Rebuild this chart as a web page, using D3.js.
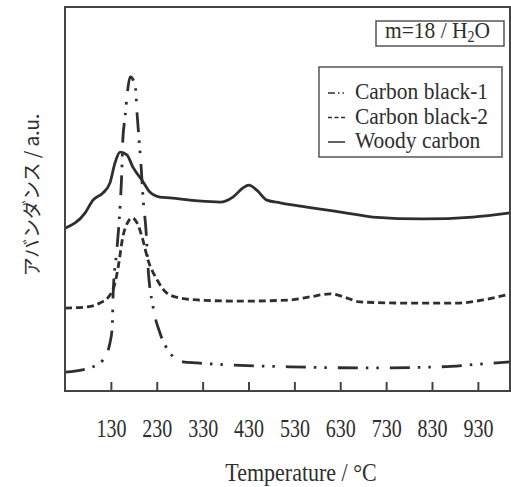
<!DOCTYPE html>
<html>
<head>
<meta charset="utf-8">
<script src="https://cdn.jsdelivr.net/npm/d3@7"></script>
<style>
  body { margin: 0; background: #fff; }
  svg { display: block; }
</style>
</head>
<body>
<svg id="chart" width="511" height="487"></svg>
<script>
// temperature (°C), intensity in arbitrary units (0-100)
const woodyT = [30, 74, 91, 113, 128, 139, 150, 165, 178, 198, 215, 237, 259, 320, 368, 396, 418, 431, 448, 470, 499, 557, 614, 673, 701, 810, 919, 1000];
const woodyV = [42.4, 46.4, 49.7, 51.6, 54.2, 59.4, 62.2, 61.5, 58.3, 54.9, 51.8, 50.5, 50.3, 49.5, 49.2, 50.5, 52.9, 53.6, 52.3, 49.7, 49.0, 47.9, 46.9, 45.8, 45.3, 44.8, 45.3, 46.4];

const cb2T = [30, 78, 106, 128, 139, 146, 156, 167, 176, 187, 198, 211, 231, 252, 281, 320, 411, 520, 564, 608, 645, 673, 775, 884, 941, 1000];
const cb2V = [21.6, 21.9, 22.9, 25.0, 28.1, 32.3, 40.1, 44.0, 45.1, 43.8, 40.1, 34.1, 28.9, 25.5, 24.2, 23.7, 23.4, 23.7, 24.5, 25.3, 24.2, 23.2, 22.9, 22.9, 23.7, 25.3];

const cb1T = [30, 91, 113, 128, 133, 135, 143, 150, 154, 156, 161, 165, 172, 183, 187, 191, 196, 200, 207, 211, 222, 237, 259, 287, 318, 520, 701, 847, 935, 1000];
const cb1V = [4.9, 6.3, 8.1, 12.5, 16.7, 25.5, 36.7, 47.9, 57.6, 65.4, 71.4, 76.6, 81.8, 79.7, 72.4, 66.1, 58.3, 50.5, 41.1, 32.3, 21.9, 15.1, 9.9, 7.6, 7.3, 6.3, 6.0, 6.3, 7.0, 7.6];

const xTicks = [130, 230, 330, 430, 530, 630, 730, 830, 930];
const seriesNames = ["Carbon black-1", "Carbon black-2", "Woody carbon"];

const ink = "#2e2e2e";
const serif = "Liberation Serif, Times New Roman, serif";

const series = [
  { name: seriesNames[0], T: cb1T, V: cb1V, dash: "20,8,2.5,8,2.5,11", legendDash: "7,3,1.5,3,1.5,40" },
  { name: seriesNames[1], T: cb2T, V: cb2V, dash: "7,4", legendDash: "4,2.5" },
  { name: seriesNames[2], T: woodyT, V: woodyV, dash: null, legendDash: null },
];

const svg = d3.select("#chart");
const frame = { left: 65, right: 510, top: 7, bottom: 391 };

const x = d3.scaleLinear().domain([30, 1000]).range([frame.left, frame.right]);
const y = d3.scaleLinear().domain([0, 100]).range([frame.bottom, frame.top]);

const line = d3
  .line()
  .x((d) => x(d[0]))
  .y((d) => y(d[1]))
  .curve(d3.curveMonotoneX);

const plot = svg.append("g");
plot
  .append("clipPath")
  .attr("id", "clip")
  .append("rect")
  .attr("x", frame.left)
  .attr("y", frame.top)
  .attr("width", frame.right - frame.left)
  .attr("height", frame.bottom - frame.top);

plot
  .selectAll("path.series")
  .data(series)
  .enter()
  .append("path")
  .attr("class", "series")
  .attr("clip-path", "url(#clip)")
  .attr("d", (s) => line(s.T.map((t, i) => [t, s.V[i]])))
  .attr("fill", "none")
  .attr("stroke", ink)
  .attr("stroke-width", 2.8)
  .attr("stroke-dasharray", (s) => s.dash);

// x axis, ticks point inward
const axis = svg
  .append("g")
  .attr("transform", `translate(0, ${frame.bottom})`)
  .call(d3.axisBottom(x).tickValues(xTicks).tickSize(-9).tickSizeOuter(0).tickFormat(d3.format("d")));
axis.select(".domain").remove();
axis.selectAll(".tick line").attr("stroke", "#444").attr("stroke-width", 2);
axis
  .selectAll(".tick text")
  .attr("y", null)
  .attr("dy", null)
  .attr("transform", "translate(0, 46) scale(1, 1.28)")
  .attr("fill", ink)
  .attr("font-family", serif)
  .attr("font-size", 20);

// frame
svg
  .append("rect")
  .attr("x", frame.left)
  .attr("y", frame.top)
  .attr("width", frame.right - frame.left)
  .attr("height", frame.bottom - frame.top)
  .attr("fill", "none")
  .attr("stroke", "#444")
  .attr("stroke-width", 2);

function stretchedText(g, tx, ty, sy, size) {
  return g
    .append("text")
    .attr("transform", `translate(${tx}, ${ty}) scale(1, ${sy})`)
    .attr("fill", ink)
    .attr("font-family", serif)
    .attr("font-size", size);
}

stretchedText(svg, 301, 481, 1.14, 22).attr("text-anchor", "middle").text("Temperature / °C");

svg
  .append("text")
  .attr("transform", "translate(30, 195) rotate(-90)")
  .attr("text-anchor", "middle")
  .attr("dominant-baseline", "central")
  .attr("fill", ink)
  .attr("font-family", "Noto Sans CJK JP, sans-serif")
  .attr("font-size", 19)
  .text("アバンダンス / a.u.");

// condition box
svg
  .append("rect")
  .attr("x", 376)
  .attr("y", 21)
  .attr("width", 128)
  .attr("height", 25)
  .attr("fill", "#fff")
  .attr("stroke", "#555")
  .attr("stroke-width", 1.5);
const cond = stretchedText(svg, 385, 38, 1.12, 21.5);
cond.append("tspan").text("m=18 / H");
cond.append("tspan").attr("dy", 4).attr("font-size", 14).text("2");
cond.append("tspan").attr("dy", -4).text("O");

// legend
const legend = svg.append("g");
legend
  .append("rect")
  .attr("x", 319)
  .attr("y", 67)
  .attr("width", 183)
  .attr("height", 90)
  .attr("fill", "#fff")
  .attr("stroke", "#555")
  .attr("stroke-width", 1.5);

const rows = legend
  .selectAll("g.row")
  .data(series)
  .enter()
  .append("g")
  .attr("class", "row")
  .attr("transform", (d, i) => `translate(0, ${99 + i * 24.5})`);

rows
  .append("line")
  .attr("x1", 328)
  .attr("x2", (d, i) => (i === 0 ? 346 : i === 1 ? 347.5 : 345))
  .attr("y1", -6)
  .attr("y2", -6)
  .attr("stroke", ink)
  .attr("stroke-width", 1.5)
  .attr("stroke-dasharray", (d) => d.legendDash);

rows.each(function (d) {
  stretchedText(d3.select(this), 355, 0, 1.12, 21.5).text(d.name);
});
</script>
</body>
</html>
